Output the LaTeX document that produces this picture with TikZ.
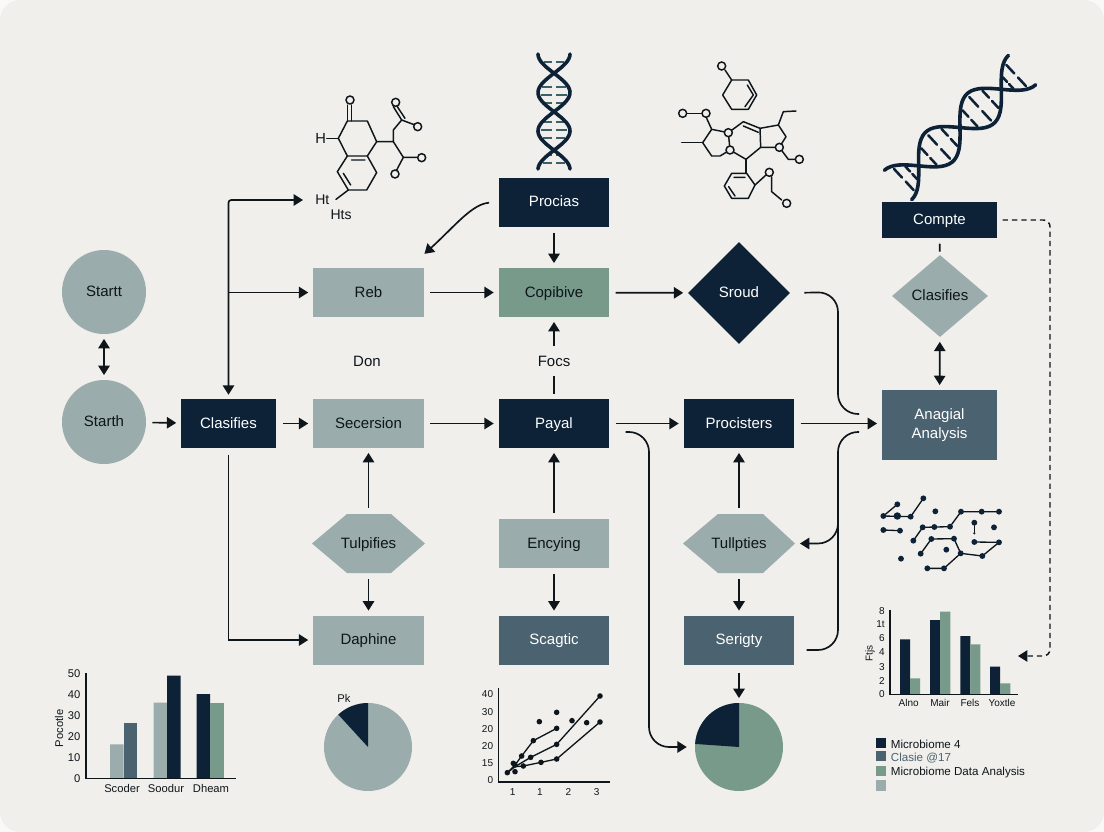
\documentclass[tikz,border=0pt]{standalone}
\usepackage{fontspec}
\setmainfont{Liberation Sans}
\usetikzlibrary{arrows.meta,shapes.geometric,calc}
\definecolor{pagebg}{HTML}{F0EFEB}
\definecolor{navy}{HTML}{0D2237}
\definecolor{sage}{HTML}{9AACAB}
\definecolor{moss}{HTML}{789A8A}
\definecolor{slate}{HTML}{4B6270}
\definecolor{ink}{HTML}{0E151B}
\definecolor{rung}{HTML}{3C6068}
\tikzset{
  x=0.75pt,y=-0.75pt,
  lab/.style={font=\fontsize{11.25}{14}\selectfont,text=ink,inner sep=0pt,text height=7pt,text depth=0pt},
  labw/.style={font=\fontsize{11.25}{14}\selectfont,text=white,inner sep=0pt,text height=7pt,text depth=0pt},
  wbox/.style={rectangle,minimum width=83pt,minimum height=36.75pt,inner sep=0pt},
  link/.style={draw=ink,line width=1.25pt,-{Triangle[length=7pt,width=8.5pt]},shorten <=4.5pt,shorten >=3.5pt},
  plain/.style={draw=ink,line width=1.25pt,shorten <=4.5pt},
  bond/.style={draw=ink,line width=1.1pt,line join=round,line cap=round},
  atom/.style={draw=ink,line width=1.1pt,fill=pagebg},
  helix/.style={draw=navy,line width=2.7pt,line cap=round},
  tick/.style={font=\fontsize{8.4}{9}\selectfont,text=ink,inner sep=0pt},
  smalltick/.style={font=\fontsize{7.5}{9}\selectfont,text=ink,inner sep=0pt},
  axisline/.style={draw=ink,line width=0.9pt},
  chartline/.style={draw=ink,line width=1pt,line join=round},
}
\begin{document}
\begin{tikzpicture}
\useasboundingbox (0,0) rectangle (1104,832);
\fill[white!60!pagebg] (0,0) rectangle (1104,832);
\fill[pagebg,rounded corners=15pt] (0,0) rectangle (1104,832);

% ---------- nodes
\node[circle,fill=sage,minimum size=63pt,lab] (startA) at (104,292) {Startt};
\node[circle,fill=sage,minimum size=63pt,lab] (startB) at (104,422) {Starth};
\node[rectangle,fill=navy,minimum width=71pt,minimum height=36.75pt,labw] (clas) at (228.5,423.5) {Clasifies};
\node[wbox,fill=sage,lab] (reb) at (368.5,292.5) {Reb};
\node[wbox,fill=sage,lab] (sec) at (368.5,423.5) {Secersion};
\node[lab] (don) at (367,362) {Don};
\node[wbox,fill=navy,labw] (proc) at (554,202) {Procias};
\node[wbox,fill=moss,lab] (cop) at (554,292.5) {Copibive};
\node[lab] (focs) at (554,362) {Focs};
\node[wbox,fill=navy,labw] (payal) at (554,423.5) {Payal};
\node[wbox,fill=sage,lab] (enc) at (554,543.5) {Encying};
\node[wbox,fill=slate,labw] (scag) at (554,640) {Scagtic};
\node[diamond,aspect=1,fill=navy,minimum width=76.5pt,minimum height=76.5pt,labw] (sroud) at (739,293) {Sroud};
\node[wbox,fill=navy,labw] (procs) at (739,423.5) {Procisters};
\fill[sage] (683,543.5)--(718,514)--(763,514)--(795,543.5)--(763,573)--(718,573)--cycle;
\node[rectangle,minimum width=84pt,minimum height=44pt,lab] (tull) at (739,543.5) {Tullpties};
\node[wbox,fill=slate,labw] (seri) at (739,640) {Serigty};
\fill[sage] (312,543.5)--(347,514)--(391,514)--(425,543.5)--(391,573)--(347,573)--cycle;
\node[rectangle,minimum width=84pt,minimum height=44pt,lab] (tulp) at (368.5,543.5) {Tulpifies};
\node[wbox,fill=sage,lab] (daph) at (368.5,640) {Daphine};
\node[rectangle,fill=navy,minimum width=86.25pt,minimum height=27pt,labw] (comp) at (939.5,220) {Compte};
\node[diamond,aspect=1.17,fill=sage,minimum width=72pt,minimum height=61.5pt,lab] (clasB) at (940,296) {Clasifies};
\node[rectangle,fill=slate,minimum width=86.25pt,minimum height=52.5pt,inner sep=0pt,text=white,align=center,font=\fontsize{11.25}{14}\selectfont] (ana) at (939.5,425) {Anagial\\Analysis};
\node[circle,fill=sage,minimum size=66pt,inner sep=0pt] (pieA) at (368,747) {};
\fill[navy] (368,747) -- (368,703) arc[start angle=90,end angle=132.5,radius=33pt] -- cycle;
\node[circle,fill=moss,minimum size=66pt,inner sep=0pt] (pieB) at (739,747) {};
\fill[navy] (739,747) -- (739,703) arc[start angle=90,end angle=176,radius=33pt] -- cycle;
\node[tick] (pk) at (344,698) {Pk};
\node[font=\fontsize{10.5}{12}\selectfont,text=ink,inner sep=0pt,anchor=west] (hA) at (315,200) {Ht};
\node[font=\fontsize{10.5}{12}\selectfont,text=ink,inner sep=0pt] (hB) at (341,215) {Hts};

% ---------- junctions
\coordinate (jReb) at (clas.north |- reb.west);
\coordinate (railA) at (838,292);
\coordinate (railB) at (838,414);
\coordinate (railC) at (838,650);
\coordinate (railD) at (838,432);
\coordinate (railE) at (838,515);
\coordinate (payA) at (649,432);
\coordinate (dashA) at (1050,220);
\coordinate (dashB) at (1050,656);
\coordinate (chartIn) at (1018,656);
\coordinate (rebIn) at (421,257);

% ---------- connectors
\draw[link,{Triangle[length=7pt,width=8.5pt]}-{Triangle[length=7pt,width=8.5pt]},shorten <=3.5pt,shorten >=3.5pt] (startA) -- (startB);
\draw[link] (startB) -- (clas);
\draw[link,shorten <=5pt] (clas) -- (sec);
\draw[link] (sec) -- (payal);
\draw[link] (payal) -- (procs);
\draw[link] (procs.east) -- (ana.west |- procs.east);
\draw[link] (reb) -- (cop);
\draw[link] (cop) -- (sroud);
\draw[link] (proc) -- (cop);
\draw[link,shorten <=7pt] (proc.west) .. controls (472,204) and (455,226) .. (rebIn);
\draw[plain,shorten <=3.5pt,shorten >=7pt] (payal) -- (focs);
\draw[link,shorten <=8pt] (focs) -- (cop);
\draw[link] (enc) -- (payal);
\draw[link] (enc) -- (scag);
\draw[link] (tulp) -- (sec);
\draw[link] (tulp) -- (daph);
\draw[link] (tull) -- (procs);
\draw[link] (tull) -- (seri);
\draw[link,shorten <=6pt] (seri) -- (pieB);
\draw[link,{Triangle[length=7pt,width=8.5pt]}-{Triangle[length=7pt,width=8.5pt]},rounded corners=2pt,shorten <=3pt,shorten >=9pt] (clas.north) |- (hA.west);
\draw[link,shorten <=0pt] (jReb) -- (reb.west);
\draw[plain,-{Triangle[length=7pt,width=8.5pt]},shorten >=3.5pt,shorten <=5pt] (clas.south) |- (daph.west);
\draw[plain,rounded corners=15pt,shorten <=10.5pt,shorten >=17pt] (sroud.east) -- (railA) -- (railB) -- (ana.west |- railB);
\draw[plain,rounded corners=15pt,shorten <=9pt,shorten >=17pt] (seri.east |- railC) -- (railC) -- (railD) -- (ana.west |- railD);
\draw[link,rounded corners=15pt,shorten <=0pt] (railE) -- (railE |- tull.east) -- (tull.east);
\draw[link,rounded corners=15pt,shorten <=12pt,shorten >=6pt] (payal.east |- payA) -- (payA) -- (payA |- pieB.west) -- (pieB.west);
\draw[link,dash pattern=on 4pt off 3pt,line width=1.1pt,rounded corners=5pt,shorten <=4pt,shorten >=0pt] (comp.east) -- (dashA) -- (dashB) -- (chartIn);
\draw[link,{Triangle[length=7pt,width=8.5pt]}-{Triangle[length=7pt,width=8.5pt]},shorten <=3.5pt,shorten >=3.5pt] (clasB) -- (ana);
\draw[plain,shorten <=4pt,shorten >=2.5pt] (comp) -- (clasB);

% ---------- vertical helix
\foreach \y in {62,87,95,103,122,130,138,155,163}{
  \draw[rung,line width=1.3pt] ({554-13*abs(cos((\y-54)*4.675))},\y) -- ({554-2},\y);
  \draw[rung,line width=1.3pt] ({554+2},\y) -- ({554+13*abs(cos((\y-54)*4.675))},\y);
}
\draw[helix] plot[smooth,domain=54:169,samples=50,variable=\y] ({554+16*cos((\y-54)*4.675)},\y);
\draw[helix] plot[smooth,domain=54:169,samples=50,variable=\y] ({554-16*cos((\y-54)*4.675)},\y);

% ---------- diagonal helix
\foreach \t in {8,18,42,56,70,98,112,126,150,161}{
  \draw[navy,line width=1.9pt,line cap=round]
   ({898+.734*\t+.68*16*cos(3.197*\t)},{185-.68*\t+.734*16*cos(3.197*\t)}) --
   ({898+.734*\t+.68*3*cos(3.197*\t)},{185-.68*\t+.734*3*cos(3.197*\t)});
  \draw[navy,line width=1.9pt,line cap=round]
   ({898+.734*\t-.68*16*cos(3.197*\t)},{185-.68*\t-.734*16*cos(3.197*\t)}) --
   ({898+.734*\t-.68*3*cos(3.197*\t)},{185-.68*\t-.734*3*cos(3.197*\t)});
}
\draw[helix] plot[smooth,domain=0:169,samples=50,variable=\t] ({898+.734*\t+.68*20*cos(3.197*\t)},{185-.68*\t+.734*20*cos(3.197*\t)});
\draw[helix] plot[smooth,domain=0:169,samples=50,variable=\t] ({898+.734*\t-.68*20*cos(3.197*\t)},{185-.68*\t-.734*20*cos(3.197*\t)});

% ---------- molecule 1 (zoom coordinates)
\begin{scope}[shift={(280,50)},x=0.25pt,y=-0.25pt]
\draw[bond] (202,213)--(262,213)--(290,275)--(262,318)--(202,318)--(175,265)--cycle;
\draw[bond] (202,318)--(172,365)--(205,420)--(260,420)--(290,368)--(262,318);
\draw[bond] (215,330)--(255,330) (190,370)--(212,405);
\draw[bond] (203,213)--(203,165) (215,213)--(215,165);
\draw[bond] (140,265)--(175,265);
\draw[bond] (290,275)--(340,275)--(340,240)--(365,210);
\draw[bond] (365,210)--(340,170) (375,205)--(352,170);
\draw[bond] (365,210)--(405,225);
\draw[bond] (340,275)--(370,322)--(410,322);
\draw[bond] (370,322)--(350,360);
\draw[bond] (205,420)--(168,448);
\foreach \p in {(210,150),(347,157),(413,230),(425,323),(345,372)}
  \draw[atom] \p circle (3pt);
\node[font=\fontsize{11}{12}\selectfont,text=ink,inner sep=0pt] (hC) at (122,265) {H};
\end{scope}

% ---------- molecule 2 (zoom coordinates)
\begin{scope}[shift={(660,50)},x=0.25pt,y=-0.25pt]
\draw[bond] (195,60)--(215,90);
\draw[bond] (215,90)--(265,90)--(290,135)--(265,178)--(215,178)--(188,135)--cycle;
\draw[bond] (262,105)--(280,135)--(255,170);
\draw[bond] (75,190)--(130,190);
\draw[bond] (140,205)--(155,238)--(205,248)--(210,300)--(180,318)--(155,318)--(128,278)--(155,238);
\draw[bond] (65,278)--(128,278);
\draw[bond] (205,248)--(250,215)--(300,235)--(302,292)--(258,328)--(210,300);
\draw[bond] (250,228)--(295,247);
\draw[bond] (300,235)--(355,225)--(378,260)--(358,292)--(302,292);
\draw[bond] (355,225)--(370,185)--(408,183);
\draw[bond] (358,292)--(385,328)--(408,328);
\draw[bond] (258,328)--(258,370);
\draw[bond] (215,370)--(260,370)--(285,405)--(265,445)--(215,445)--(193,408)--cycle;
\draw[bond] (222,382)--(255,382) (206,410)--(225,438);
\draw[bond] (285,405)--(318,375);
\draw[bond] (335,380)--(335,425)--(365,450);
\foreach \p in {(185,48),(68,190),(138,190),(205,248),(210,300),(358,292),(418,328),(328,367),(380,460)}
  \draw[atom] \p circle (3pt);
\end{scope}

% ---------- network (zoom coordinates)
\begin{scope}[shift={(850,480)},x=0.25pt,y=-0.25pt]
\draw[chartline] (142,73)--(100,108)--(182,110)--(220,55);
\draw[chartline] (190,182)--(218,142)--(300,140)--(333,95)--(447,95);
\draw[chartline] (100,150)--(150,152);
\draw[chartline] (373,128)--(373,160);
\draw[chartline] (212,221)--(244,177)--(312,176)--(332,220)--(397,228)--(447,187)--(373,186);
\draw[chartline] (332,220)--(282,265)--(232,265);
\foreach \p in {(100,108),(182,110),(220,55),(256,94),(333,95),(395,95),(447,95),(100,150),(150,152),(218,142),(253,141),(300,140),(190,182),(373,128),(432,142),(244,177),(312,176),(212,221),(289,209),(332,220),(397,228),(447,187),(373,186),(282,265),(232,265),(153,236),(142,73)}
  \fill[navy] \p circle (2.2pt);
\fill[navy] (142,108) circle (2.8pt) (373,160) circle (0.9pt);
% bar chart
\fill[navy] (150,478) rectangle (180,643) (240,420) rectangle (270,643) (331,468) rectangle (361,643) (420,560) rectangle (450,643);
\fill[moss] (180,595) rectangle (210,643) (270,395) rectangle (301,643) (361,493) rectangle (391,643) (450,610) rectangle (481,643);
\draw[axisline] (120,390)--(120,643)--(505,643);
\foreach \n/\y/\t in {a/392/8,b/432/1t,c/475/6,d/515/4,e/560/3,f/602/2,g/643/0}
  \node[smalltick,anchor=east] (rt\n) at (105,\y) {\t};
\node[smalltick] (rxa) at (176,670) {Alno};
\node[smalltick] (rxb) at (270,670) {Mair};
\node[smalltick] (rxc) at (360,670) {Fels};
\node[smalltick] (rxd) at (456,670) {Yoxtle};
\node[smalltick,rotate=90] (rtt) at (60,520) {Ftjs};
% legend
\fill[navy] (77,773) rectangle (107,803);
\fill[slate] (77,813) rectangle (107,843);
\fill[moss] (77,858) rectangle (107,888);
\fill[sage] (77,900) rectangle (107,932);
\node[font=\fontsize{8.7}{10}\selectfont,text=ink,inner sep=0pt,anchor=west] (lgA) at (122,792) {Microbiome 4};
\node[font=\fontsize{8.7}{10}\selectfont,text=slate,inner sep=0pt,anchor=west] (lgB) at (122,833) {Clasie @17};
\node[font=\fontsize{8.7}{10}\selectfont,text=ink,inner sep=0pt,anchor=west] (lgC) at (122,877) {Microbiome Data Analysis};
\end{scope}

% ---------- left bar chart
\begin{scope}[shift={(40,660)},x=0.25pt,y=-0.25pt]
\fill[sage] (210,253) rectangle (251,355) (341,128) rectangle (381,355);
\fill[slate] (251,190) rectangle (292,355);
\fill[navy] (381,47) rectangle (422,355) (470,102) rectangle (510,355);
\fill[moss] (510,128) rectangle (551,355);
\draw[axisline] (138,40)--(138,355)--(588,355);
\foreach \n/\y/\t in {a/42/50,b/105/40,c/167/30,d/230/20,e/292/10,f/355/0}
  \node[tick,anchor=east] (lt\n) at (122,\y) {\t};
\node[tick] (lxa) at (246,385) {Scoder};
\node[tick] (lxb) at (378,385) {Soodur};
\node[tick] (lxc) at (513,385) {Dheam};
\node[tick,rotate=90] (ltt) at (57,205) {Pocotle};
\end{scope}

% ---------- scatter chart
\begin{scope}[shift={(460,670)},x=0.25pt,y=-0.25pt]
\draw[axisline] (116,55)--(116,336)--(450,336);
\draw[chartline] (142,308)--(165,285)--(185,258)--(220,212)--(290,175);
\draw[chartline] (142,308)--(165,290)--(212,262)--(290,223)--(420,78);
\draw[chartline] (165,290)--(190,288)--(243,277)--(290,267)--(420,156);
\foreach \p in {(142,308),(165,285),(185,258),(220,212),(290,175),(212,262),(290,223),(420,78),(190,288),(243,277),(290,267),(420,156),(238,155),(290,127),(336,152),(380,158),(165,305),(160,280)}
  \fill[ink] \p circle (2.1pt);
\foreach \n/\y/\t in {a/73/40,b/125/30,c/176/20,d/227/20,e/279/15,f/330/0}
  \node[smalltick,anchor=east] (st\n) at (100,\y) {\t};
\foreach \n/\x/\t in {a/158/1,b/240/1,c/325/2,d/410/3}
  \node[smalltick] (sx\n) at (\x,367) {\t};
\end{scope}
\end{tikzpicture}
\end{document}
